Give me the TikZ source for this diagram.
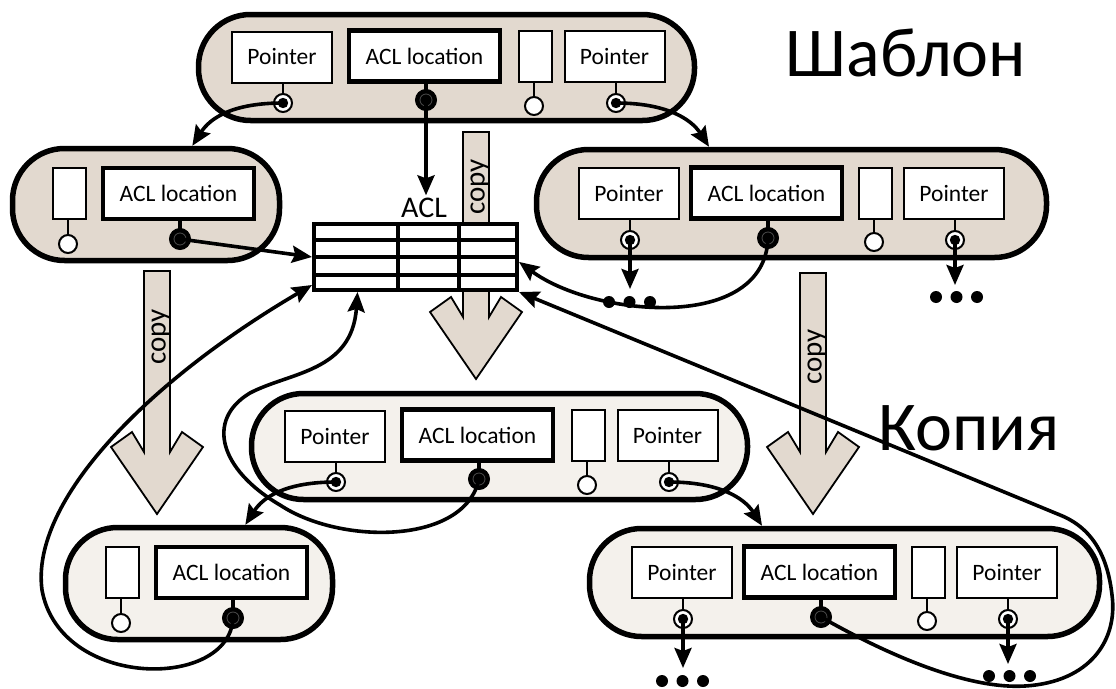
\documentclass[tikz,border=0pt]{standalone}
\usepackage{fontspec}
\setmainfont{Carlito}
\usetikzlibrary{arrows.meta,calc}
\definecolor{tplfill}{RGB}{226,217,207}
\definecolor{cpyfill}{RGB}{244,241,236}
\tikzset{
  capsule/.style={draw, line width=5.5pt, rounded corners=52pt, inner sep=0pt},
  ptrbox/.style={draw, line width=2pt, fill=white, inner sep=0pt, minimum width=100pt, minimum height=51pt, font=\fontsize{23.5}{28}\selectfont},
  aclbox/.style={draw, line width=4.5pt, fill=white, inner sep=0pt, minimum width=151pt, minimum height=51pt, font=\fontsize{23.5}{28}\selectfont},
  slotbox/.style={draw, line width=2pt, fill=white, inner sep=0pt, minimum width=33pt, minimum height=51pt},
  ptrdot/.style={circle, draw, line width=2pt, fill=white, minimum size=18pt, inner sep=0pt},
  acldot/.style={circle, draw=black, fill=black, line width=1pt, minimum size=21pt, inner sep=0pt},
  nildot/.style={circle, draw, line width=2pt, fill=white, minimum size=18pt, inner sep=0pt},
  stem/.style={line width=1.6pt},
  aclstem/.style={line width=3.5pt},
  link/.style={line width=3.6pt, -{Stealth[length=20pt,width=17pt,inset=3pt]}},
  copyshape/.style={draw, line width=1.8pt, fill=tplfill, line join=miter},
  copytext/.style={rotate=90, inner sep=0pt, font=\fontsize{29}{32}\selectfont},
  tablebox/.style={draw, line width=4pt, fill=white, inner sep=0pt, minimum width=203pt, minimum height=66pt},
  bigtitle/.style={anchor=base, inner sep=0pt, font=\fontsize{70}{84}\selectfont},
}
\newcommand{\PtrCenter}[1]{\fill (#1) circle (5.2pt);}
\newcommand{\AclCenter}[1]{\draw[line width=0.8pt, black!70] (#1) circle (6pt);}
\newcommand{\ThreeDots}[2]{\fill (#1-20.5,#2) circle (6pt) (#1,#2) circle (6pt) (#1+20.5,#2) circle (6pt);}

\newcommand{\StructWide}[2]{%
  \node[capsule, fill=#2, minimum width=496pt, minimum height=106pt] (#1) at (446.5,67.5) {};
  \node[ptrbox] (#1p1) at (282,57) {Pointer};
  \node[aclbox] (#1acl) at (424.5,56) {ACL location};
  \node[slotbox] (#1slot) at (535.5,56.5) {};
  \node[ptrbox] (#1p2) at (614.5,56.5) {Pointer};
  \draw[stem] (#1p1.south -| 283,0) -- (283,96);
  \draw[aclstem] (#1acl.south -| 426,0) -- (426,92);
  \draw[stem] (#1slot.south -| 534,0) -- (534,99);
  \draw[stem] (#1p2.south -| 616,0) -- (616,96);
  \node[ptrdot] (#1p1c) at (283,103) {};
  \node[acldot] (#1ad) at (426,100) {};
  \node[nildot] (#1nc) at (534,106) {};
  \node[ptrdot] (#1p2c) at (616,103) {};
  \PtrCenter{#1p1c}\PtrCenter{#1p2c}\AclCenter{#1ad}
}
\newcommand{\StructSmall}[2]{%
  \node[capsule, fill=#2, minimum width=267pt, minimum height=112pt] (#1) at (146,204.5) {};
  \node[slotbox] (#1slot) at (69,193.5) {};
  \node[aclbox] (#1acl) at (178.5,193.5) {ACL location};
  \draw[stem] (#1slot.south -| 68,0) -- (68,236);
  \draw[aclstem] (#1acl.south -| 180,0) -- (180,230);
  \node[nildot] (#1nc) at (68,244) {};
  \node[acldot] (#1ad) at (180,239) {};
  \AclCenter{#1ad}
}
\newcommand{\StructRight}[2]{%
  \node[capsule, fill=#2, minimum width=510pt, minimum height=108pt] (#1) at (791.5,203.5) {};
  \node[ptrbox] (#1p1) at (629,193) {Pointer};
  \node[aclbox] (#1acl) at (766.5,193) {ACL location};
  \node[slotbox] (#1slot) at (875,193) {};
  \node[ptrbox] (#1p2) at (954,193) {Pointer};
  \draw[stem] (#1p1.south -| 630,0) -- (630,232);
  \draw[aclstem] (#1acl.south -| 768,0) -- (768,229);
  \draw[stem] (#1slot.south -| 874,0) -- (874,234);
  \draw[stem] (#1p2.south -| 955,0) -- (955,232);
  \node[ptrdot] (#1p1c) at (630,240) {};
  \node[acldot] (#1ad) at (768,238) {};
  \node[nildot] (#1nc) at (874,242) {};
  \node[ptrdot] (#1p2c) at (955,240) {};
  \PtrCenter{#1p1c}\PtrCenter{#1p2c}\AclCenter{#1ad}
  \coordinate (#1dl) at (630,289);
  \coordinate (#1dr) at (955,285);
  \ThreeDots{629.5}{302}
  \ThreeDots{956.5}{297}
}
\newcommand{\CopyArrow}[5]{%
  \draw[copyshape] (#2-13,#3) -- (#2-13,#4) -- (#2-25,#4-20) -- (#2-46,#4-5) -- (#2,#4+62)
     -- (#2+46,#4-5) -- (#2+25,#4-20) -- (#2+13,#4) -- (#2+13,#3) -- cycle;
  \node[copytext] (#1) at (#2+4,#5) {copy};
}

\begin{document}
\begin{tikzpicture}[x=1pt,y=-1pt]
\useasboundingbox (0,0) rectangle (1116,688);
\fill[white] (0,0) rectangle (1116,688);

% template
\StructWide{T}{tplfill}
\StructSmall{L}{tplfill}
\StructRight{R}{tplfill}
% copy
\begin{scope}[shift={(53,379)}]
  \StructWide{M}{cpyfill}
  \StructSmall{BL}{cpyfill}
  \StructRight{BR}{cpyfill}
\end{scope}

% copy arrows
\CopyArrow{cpyM}{476}{132}{317}{187}
\CopyArrow{cpyL}{157}{271}{452}{337}
\CopyArrow{cpyR}{813}{273}{452}{357}

% ACL table
\node[tablebox] (acltab) at (415.5,257) {};
\draw[line width=4pt] (314,240) -- (517,240) (314,257) -- (517,257) (314,275) -- (517,275)
  (398,224) -- (398,290) (459,224) -- (459,290);
\node[anchor=base, inner sep=2pt, font=\fontsize{30}{32}\selectfont] (acllab) at (424,217) {ACL};

\coordinate (tblW2) at ($(acltab.south west)!0.1!(acltab.north west)$);
\coordinate (tblS) at ($(acltab.south west)!0.22!(acltab.south east)$);
\coordinate (tblE) at ($(acltab.north east)!0.57!(acltab.south east)$);

% template links
\draw[link] (Tp1c.center) .. controls +(-50,0) and +(18,-28) .. ($(L.north west)!0.67!(L.north east)$);
\draw[link] (Tp2c.center) .. controls +(50,0) and +(-18,-28) .. ($(R.north west)!0.34!(R.north east)$);
\draw[link] (Tad.center) -- (Tad.center |- acllab.north);
\draw[link] (Lad.center) -- (acltab.west);
\draw[link] (Rp1c.center) -- (Rdl);
\draw[link] (Rp2c.center) -- (Rdr);
\draw[link] (Rad.center) .. controls +(-3,95) and +(75,55) .. (tblE);

% copy links
\draw[link] (Mp1c.center) .. controls +(-50,0) and +(18,-28) .. ($(BL.north west)!0.67!(BL.north east)$);
\draw[link] (Mp2c.center) .. controls +(50,0) and +(-18,-28) .. ($(BR.north west)!0.34!(BR.north east)$);
\draw[link] (BRp1c.center) -- (BRdl);
\draw[link] (BRp2c.center) -- (BRdr);
\draw[link] (Mad.center) .. controls (465,545) and (340,545) .. (280,505)
   .. controls (220,470) and (205,420) .. (250,393)
   .. controls (290,372) and (352,372) .. (tblS);
\draw[link] (BLad.center) .. controls (230,690) and (60,690) .. (42,590)
   .. controls (30,500) and (150,380) .. (tblW2);
\draw[link] (BRad.center) .. controls (870,645) and (960,690) .. (1025,686)
   .. controls (1090,682) and (1118,640) .. (1112,595)
   .. controls (1108,560) and (1095,529) .. (1060,515) -- (acltab.south east);

% titles
\node[bigtitle] (tplTitle) at (906,76) {Шаблон};
\node[bigtitle] (cpyTitle) at (969,450) {Копия};
\end{tikzpicture}
\end{document}
